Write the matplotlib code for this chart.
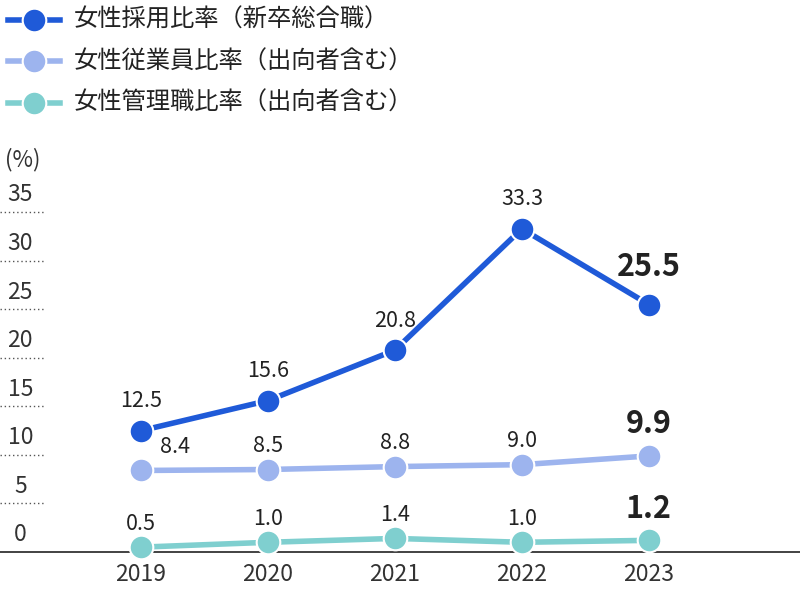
import matplotlib
matplotlib.use("Agg")
import matplotlib.pyplot as plt

plt.rcParams['font.family'] = ['Noto Sans CJK JP', 'DejaVu Sans']

years = ["2019", "2020", "2021", "2022", "2023"]
hire = [12.5, 15.6, 20.8, 33.3, 25.5]
staff = [8.4, 8.5, 8.8, 9.0, 9.9]
mgr = [0.5, 1.0, 1.4, 1.0, 1.2]
yticks = [0, 5, 10, 15, 20, 25, 30, 35]
names = ["女性採用比率（新卒総合職）", "女性従業員比率（出向者含む）", "女性管理職比率（出向者含む）"]
colors = ["#1f5ad8", "#9db4ee", "#7fcfcf"]

fig = plt.figure(figsize=(8, 6), dpi=100)
ax = fig.add_axes([0, 0.08, 1, 0.703])
x = list(range(len(years)))
ax.set_xlim(-1.11, 5.19)
ax.set_ylim(0, 43.46)
for s in ["top", "right", "left"]:
    ax.spines[s].set_visible(False)
ax.spines["bottom"].set_color("#222222")
ax.spines["bottom"].set_linewidth(1.2)
ax.set_yticks([])
ax.set_xticks(x)
ax.set_xticklabels(years, fontsize=16.5, color="#333333")
ax.tick_params(axis="x", length=0, pad=8)

for t in yticks:
    if t > 0:
        ax.plot([-1.11, -0.76], [t, t], ls=(0, (1, 2)), color="#555555", lw=1, clip_on=False)
    ax.text(-0.95, t + 0.6, str(t), ha="center", va="bottom", fontsize=16.5, color="#333333")
ax.text(-0.93, 39.2, "(%)", ha="center", va="bottom", fontsize=16, color="#333333")

for vals, c in zip([hire, staff, mgr], colors):
    ax.plot(x, vals, color=c, lw=4, marker="o", ms=17, mec="white", mew=1.5, clip_on=False, zorder=3)

def lab(vals, dy, offs=None):
    for i, v in enumerate(vals):
        dx = offs[i] if offs else 0
        last = i == len(vals) - 1
        ax.text(i + dx, v + dy + (0.3 if last else 0), f"{v:.1f}", ha="center", va="bottom",
                fontsize=22 if last else 15.5, fontweight="bold" if last else "normal", color="#222222")

lab(hire, 1.9)
lab(staff, 1.3, [0.27, 0, 0, 0, 0])
lab(mgr, 1.3)

for i, (n, c) in enumerate(zip(names, colors)):
    yy = 0.967 - i * 0.069
    fig.add_artist(plt.Line2D([0.01, 0.075], [yy, yy], color=c, lw=4, transform=fig.transFigure))
    fig.add_artist(plt.Line2D([0.043], [yy], color=c, marker="o", ms=17, mec="white", mew=1.5, transform=fig.transFigure))
    fig.text(0.092, yy, n, fontsize=17.5, va="center", color="#222222")

fig.savefig("out.png", dpi=100)
